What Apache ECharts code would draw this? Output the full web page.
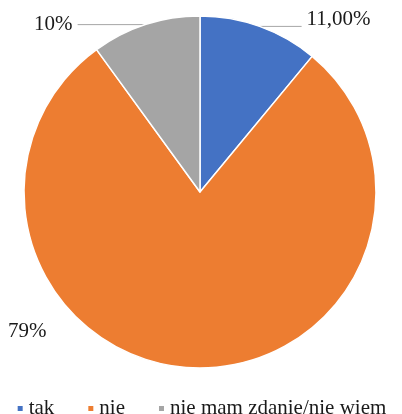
<!DOCTYPE html>
<html>
<head>
<meta charset="utf-8">
<script src="https://cdn.jsdelivr.net/npm/echarts@6/dist/echarts.min.js"></script>
<style>
  html, body { margin: 0; padding: 0; background: #fff; }
  #chart { width: 402px; height: 414px; }
</style>
</head>
<body>
<div id="chart"></div>
<script>
const categories = ['tak', 'nie', 'nie mam zdanie/nie wiem']
const values = [11, 79, 10]
const labelTexts = ['11,00%', '79%', '10%']
const colors = ['#4472C4', '#ED7D31', '#A5A5A5']

const serif = '"Liberation Serif", "Times New Roman", serif'

const chart = echarts.init(document.getElementById('chart'))

// per-slice leader line lengths, the 79% one has no line in the original
const lineTweaks = [
  { length: 0, length2: 42 },
  { show: false },
  { length: 0, length2: 68 }
]

chart.setOption({
  animation: false,
  color: colors,
  legend: {
    data: categories,
    left: 'center',
    top: 393,
    icon: 'rect',
    itemWidth: 7,
    itemHeight: 7,
    itemGap: 32,
    textStyle: {
      fontFamily: serif,
      fontSize: 21,
      color: '#1a1a1a'
    }
  },
  series: [{
    type: 'pie',
    center: [200, 192],
    radius: 176,
    startAngle: 90,
    clockwise: true,
    avoidLabelOverlap: false,
    itemStyle: {
      borderColor: '#fff',
      borderWidth: 1.5
    },
    label: {
      show: true,
      position: 'outside',
      fontFamily: serif,
      fontSize: 21,
      color: '#1a1a1a',
      // the 11,00% label sits a bit above its leader line, an empty spacer line lifts it
      formatter: (p) => p.dataIndex === 0 ? labelTexts[0] + '\n{s| }' : labelTexts[p.dataIndex],
      rich: {
        s: { fontSize: 1, lineHeight: 13 }
      }
    },
    labelLine: {
      show: true,
      lineStyle: { color: '#A6A6A6', width: 1 }
    },
    labelLayout: (p) => {
      if (p.dataIndex === 1) {
        return { x: 8, y: 331, align: 'left', verticalAlign: 'middle' }
      }
      return {}
    },
    emphasis: { disabled: true },
    data: categories.map((name, i) => ({
      name: name,
      value: values[i],
      labelLine: lineTweaks[i]
    }))
  }]
})
</script>
</body>
</html>
